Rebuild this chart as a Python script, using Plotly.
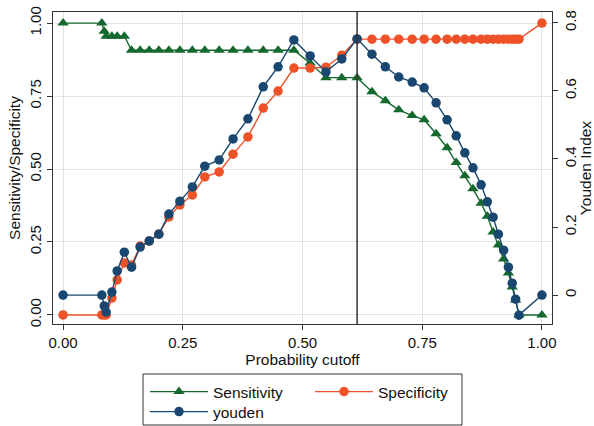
import plotly.graph_objects as go

cutoff = [0.0, 0.081, 0.086, 0.09, 0.102, 0.113, 0.128, 0.143, 0.161, 0.18, 0.2, 0.221,
          0.244, 0.27, 0.296, 0.326, 0.355, 0.386, 0.418, 0.449, 0.482, 0.516, 0.549,
          0.582, 0.614, 0.645, 0.673, 0.701, 0.729, 0.754, 0.779, 0.802, 0.821, 0.839,
          0.856, 0.873, 0.886, 0.898, 0.909, 0.92, 0.93, 0.938, 0.945, 0.952, 1.0]

sensitivity = [1.0, 1.0, 0.972, 0.955, 0.955, 0.955, 0.955, 0.907, 0.907, 0.907, 0.907, 0.907,
               0.907, 0.907, 0.907, 0.907, 0.907, 0.907, 0.907, 0.907, 0.907, 0.863, 0.813,
               0.813, 0.813, 0.765, 0.734, 0.703, 0.683, 0.669, 0.621, 0.573, 0.522, 0.477,
               0.432, 0.383, 0.338, 0.284, 0.24, 0.192, 0.144, 0.096, 0.051, 0.0, 0.0]

specificity = [0.0, 0.0, 0.0, 0.0, 0.058, 0.12, 0.178, 0.171, 0.236, 0.253, 0.277, 0.336,
               0.377, 0.411, 0.473, 0.49, 0.551, 0.61, 0.709, 0.767, 0.846, 0.846, 0.849,
               0.89, 0.945, 0.945, 0.945, 0.945, 0.945, 0.945, 0.945, 0.945, 0.945, 0.945,
               0.945, 0.945, 0.945, 0.945, 0.945, 0.945, 0.945, 0.945, 0.945, 0.945, 1.0]

youden = [0.0, 0.0, -0.032, -0.05, 0.009, 0.071, 0.126, 0.082, 0.141, 0.159, 0.179, 0.238,
          0.276, 0.318, 0.379, 0.397, 0.459, 0.518, 0.612, 0.671, 0.75, 0.703, 0.656,
          0.694, 0.753, 0.708, 0.671, 0.641, 0.626, 0.609, 0.565, 0.515, 0.468, 0.418,
          0.374, 0.324, 0.274, 0.229, 0.179, 0.132, 0.082, 0.035, -0.012, -0.059, 0.0]

optimal_cutoff = 0.614

x_ticks = [0, 0.25, 0.5, 0.75, 1.0]
x_ticklabels = ["0.00", "0.25", "0.50", "0.75", "1.00"]
y_ticks = [0, 0.25, 0.5, 0.75, 1.0]
y_ticklabels = ["0.00", "0.25", "0.50", "0.75", "1.00"]
y2_ticks = [0, 0.2, 0.4, 0.6, 0.8]
y2_ticklabels = ["0", "0.2", "0.4", "0.6", "0.8"]

GREEN = "#15692f"
ORANGE = "#ee5228"
NAVY = "#1a4770"
AXIS = "#333333"
FONT = "Liberation Sans, Arial, Helvetica, sans-serif"

W, H = 594, 426
ML, MR, MT, MB = 53, 42, 12, 102
PW, PH = W - ML - MR, H - MT - MB


def px_x(p):
    return (p - ML) / PW


def px_y(p):
    return (H - MB - p) / PH


fig = go.Figure()
fig.add_trace(go.Scatter(
    x=cutoff, y=sensitivity, name="Sensitivity", mode="lines+markers",
    line=dict(color=GREEN, width=1.4),
    marker=dict(symbol="triangle-up", size=10, color=GREEN),
    legend="legend"))
fig.add_trace(go.Scatter(
    x=cutoff, y=specificity, name="Specificity", mode="lines+markers",
    line=dict(color=ORANGE, width=1.4),
    marker=dict(symbol="circle", size=9.5, color=ORANGE),
    legend="legend"))
fig.add_trace(go.Scatter(
    x=cutoff, y=youden, name="youden", mode="lines+markers", yaxis="y2",
    line=dict(color=NAVY, width=1.4),
    marker=dict(symbol="circle", size=9.5, color=NAVY),
    legend="legend2"))

fig.add_shape(type="line", xref="x", yref="paper", x0=optimal_cutoff, x1=optimal_cutoff,
              y0=0, y1=1, line=dict(color=AXIS, width=1.5), layer="above")

# legend frame
fig.add_shape(type="rect", xref="paper", yref="paper",
              x0=px_x(143), x1=px_x(462), y0=px_y(425), y1=px_y(374),
              line=dict(color=AXIS, width=1), fillcolor="rgba(0,0,0,0)")

tickfont = dict(family=FONT, size=15, color="#111111")
titlefont = dict(family=FONT, size=15.5, color="#111111")

fig.update_layout(
    width=W, height=H,
    margin=dict(l=ML, r=MR, t=MT, b=MB, autoexpand=False),
    paper_bgcolor="white", plot_bgcolor="white",
    font=dict(family=FONT, size=15, color="#111111"),
    xaxis=dict(
        range=[-0.021, 1.021], tickvals=x_ticks, ticktext=x_ticklabels,
        showgrid=True, gridcolor="#e3e3e3", gridwidth=1.2, zeroline=False,
        showline=True, linecolor=AXIS, linewidth=1.3, mirror=True,
        ticks="outside", ticklen=5, tickcolor=AXIS, tickfont=tickfont,
        title=dict(text="Probability cutoff", font=titlefont, standoff=0)),
    yaxis=dict(
        range=[-0.031, 1.038], tickvals=y_ticks, ticktext=y_ticklabels,
        showgrid=True, gridcolor="#e3e3e3", gridwidth=1.2, zeroline=False,
        showline=True, linecolor=AXIS, linewidth=1.3,
        ticks="outside", ticklen=5, tickcolor=AXIS, tickfont=tickfont, tickangle=-90,
        title=dict(text="Sensitivity/Specificity", font=titlefont, standoff=2)),
    yaxis2=dict(
        range=[-0.085, 0.832], tickvals=y2_ticks, ticktext=y2_ticklabels,
        overlaying="y", side="right", showgrid=False, zeroline=False,
        showline=True, linecolor=AXIS, linewidth=1.3,
        ticks="outside", ticklen=5, tickcolor=AXIS, tickfont=tickfont, tickangle=-90,
        title=dict(text="Youden Index", font=titlefont, standoff=2)),
    legend=dict(
        orientation="h", x=px_x(145), xanchor="left", y=px_y(392), yanchor="middle",
        bgcolor="rgba(0,0,0,0)", borderwidth=0, itemwidth=58, entrywidth=92,
        font=dict(family=FONT, size=15.5, color="#111111"), itemclick=False),
    legend2=dict(
        orientation="h", x=px_x(145), xanchor="left", y=px_y(412), yanchor="middle",
        bgcolor="rgba(0,0,0,0)", borderwidth=0, itemwidth=58,
        font=dict(family=FONT, size=15.5, color="#111111"), itemclick=False),
)

fig.write_html("out.html")
